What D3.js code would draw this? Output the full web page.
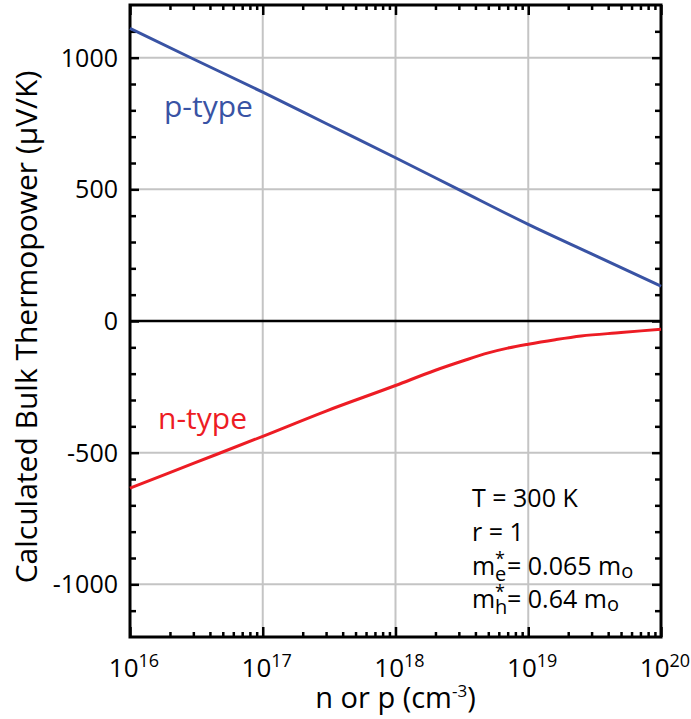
<!DOCTYPE html>
<html>
<head>
<meta charset="utf-8">
<script src="https://cdnjs.cloudflare.com/ajax/libs/d3/7.8.5/d3.min.js"></script>
<style>
  body { margin: 0; background: #fff; }
  text { font-family: "Open Sans", "DejaVu Sans", sans-serif; }
</style>
</head>
<body>
<div id="svg-container"></div>
<script>
// carrier concentration (cm^-3) and thermopower (uV/K)
var pConc  = [1e16, 3e16, 1e17, 3e17, 1e18, 3e18, 1e19, 3e19, 1e20];
var pPower = [1111, 995, 869, 750, 620, 499, 367, 255, 132];

var nConc  = [1e16, 3e16, 1e17, 3e17, 1e18, 2e18, 3.2e18, 5e18, 7e18, 1e19, 1.6e19, 2.5e19, 5e19, 1e20];
var nPower = [-635, -541, -438, -342, -245, -187, -152, -121, -103, -88, -71, -57, -44, -31];

var xTicks = [1e16, 1e17, 1e18, 1e19, 1e20];
var yTicks = [-1000, -500, 0, 500, 1000];
var notes  = ["T = 300 K", "r = 1"];

var width = 691, height = 719;
// plot box (note: "top" is a reserved window prop, so prefix these)
var pLeft = 130, pRight = 661, pTop = 5, pBottom = 637;

var svg = d3.select("#svg-container")
            .append("svg")
            .attr("width", width)
            .attr("height", height);

var x = d3.scaleLog().domain([1e16, 1e20]).range([pLeft, pRight]);
var y = d3.scaleLinear().domain([-1200, 1200]).range([pBottom, pTop]);

// minor tick values
var xMinor = [];
for (var e = 16; e < 20; e++) {
  for (var m = 2; m <= 9; m++) xMinor.push(m * Math.pow(10, e));
}
var yMinor = d3.range(-1100, 1200, 100).filter(function(v){ return v % 500 != 0; });

// grid
svg.append("g").selectAll("line")
   .data(xTicks.slice(1, -1))
   .enter().append("line")
   .attr("x1", function(d){ return x(d); })
   .attr("x2", function(d){ return x(d); })
   .attr("y1", pTop).attr("y2", pBottom)
   .attr("stroke", "#c4c4c4").attr("stroke-width", 2);

svg.append("g").selectAll("line")
   .data(yTicks.filter(function(d){ return d != 0; }))
   .enter().append("line")
   .attr("x1", pLeft).attr("x2", pRight)
   .attr("y1", function(d){ return y(d); })
   .attr("y2", function(d){ return y(d); })
   .attr("stroke", "#c4c4c4").attr("stroke-width", 2);

// zero line
svg.append("line")
   .attr("x1", pLeft).attr("x2", pRight)
   .attr("y1", y(0)).attr("y2", y(0))
   .attr("stroke", "#000").attr("stroke-width", 2.5);

// inward ticks on all four sides
function tickAxis(axis, vals, size, tx, ty) {
  var g = svg.append("g")
     .attr("transform", "translate(" + tx + "," + ty + ")")
     .call(axis.tickValues(vals).tickSize(size).tickFormat(""));
  g.select(".domain").remove();
  g.selectAll("line").attr("stroke", "#000").attr("stroke-width", 2.5);
}
tickAxis(d3.axisBottom(x), xTicks, -10, 0, pBottom);
tickAxis(d3.axisBottom(x), xMinor, -5, 0, pBottom);
tickAxis(d3.axisTop(x), xTicks, -10, 0, pTop);
tickAxis(d3.axisTop(x), xMinor, -5, 0, pTop);
tickAxis(d3.axisLeft(y), yTicks, -9, pLeft, 0);
tickAxis(d3.axisLeft(y), yMinor, -6, pLeft, 0);
tickAxis(d3.axisRight(y), yTicks, -9, pRight, 0);
tickAxis(d3.axisRight(y), yMinor, -6, pRight, 0);

// frame
svg.append("rect")
   .attr("x", pLeft).attr("y", pTop)
   .attr("width", pRight - pLeft).attr("height", pBottom - pTop)
   .attr("fill", "none").attr("stroke", "#000").attr("stroke-width", 3);

// curves
var line = d3.line()
             .x(function(d){ return x(d[0]); })
             .y(function(d){ return y(d[1]); })
             .curve(d3.curveMonotoneX);

svg.append("path")
   .datum(d3.zip(pConc, pPower))
   .attr("d", line)
   .attr("fill", "none").attr("stroke", "#3953a4").attr("stroke-width", 3);

svg.append("path")
   .datum(d3.zip(nConc, nPower))
   .attr("d", line)
   .attr("fill", "none").attr("stroke", "#ed1c24").attr("stroke-width", 3);

// y tick labels
svg.append("g").selectAll("text")
   .data(yTicks)
   .enter().append("text")
   .attr("x", 118)
   .attr("y", function(d){ return y(d); })
   .attr("dy", "0.36em")
   .attr("text-anchor", "end")
   .style("font-size", "25px")
   .text(function(d){ return d; });

// x tick labels 10^n
var xl = svg.append("g").selectAll("text")
   .data(xTicks)
   .enter().append("text")
   .attr("x", function(d){ return x(d) + 4; })
   .attr("y", 677)
   .attr("text-anchor", "middle")
   .style("font-size", "26px");
xl.append("tspan").text("10");
xl.append("tspan")
  .attr("dy", -10)
  .style("font-size", "18px")
  .text(function(d){ return Math.round(Math.log10(d)); });

// axis titles
svg.append("text")
   .attr("x", (pLeft + pRight) / 2)
   .attr("y", 708)
   .attr("text-anchor", "middle")
   .style("font-size", "29px")
   .html('n or p (cm<tspan dy="-11" style="font-size:17px">-3</tspan><tspan dy="11">)</tspan>');

svg.append("text")
   .attr("transform", "translate(37,327) rotate(-90)")
   .attr("text-anchor", "middle")
   .style("font-size", "30px")
   .text("Calculated Bulk Thermopower (\u03bcV/K)");

// series labels
svg.append("text")
   .attr("x", 164).attr("y", 117)
   .style("font-size", "30px").attr("fill", "#3953a4")
   .text("p-type");

svg.append("text")
   .attr("x", 158).attr("y", 429)
   .style("font-size", "30px").attr("fill", "#ed1c24")
   .text("n-type");

// parameters
svg.append("g").selectAll("text")
   .data(notes)
   .enter().append("text")
   .attr("x", 472)
   .attr("y", function(d, i){ return 507 + i * 34; })
   .style("font-size", "25px")
   .text(function(d){ return d; });

// m* with stacked star / subscript
function massLine(yPos, sub, rest) {
  var t = svg.append("text").attr("y", yPos).style("font-size", "25px");
  t.append("tspan").attr("x", 472).text("m");
  t.append("tspan").attr("x", 495).attr("dy", -10).style("font-size", "18px").text("*");
  t.append("tspan").attr("x", 495).attr("dy", 16).style("font-size", "20px").text(sub);
  t.append("tspan").attr("x", 507).attr("dy", -6).text(rest);
  t.append("tspan").attr("dy", 3).style("font-size", "20px").text("o");
}
massLine(575, "e", "= 0.065 m");
massLine(608, "h", "= 0.64 m");
</script>
</body>
</html>
